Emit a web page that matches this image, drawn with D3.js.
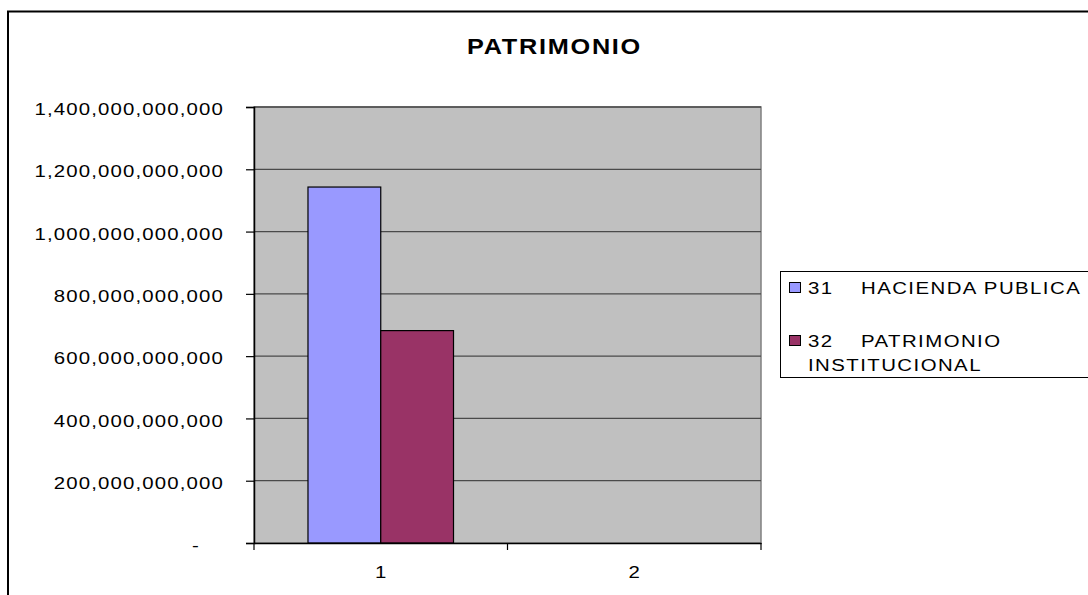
<!DOCTYPE html>
<html>
<head>
<meta charset="utf-8">
<script src="https://cdn.jsdelivr.net/npm/d3@7"></script>
<style>
html,body{margin:0;padding:0;background:#fff;}
svg{display:block;font-family:"Liberation Sans",Arial,sans-serif;}
</style>
</head>
<body>
<svg id="chart" width="1088" height="595"></svg>
<script>
const title = "PATRIMONIO";
const categories = ["1", "2"];
const seriesNames = ["31", "32"];
const seriesLabels = [["HACIENDA PUBLICA"], ["PATRIMONIO", "INSTITUCIONAL"]];
const seriesColors = ["#9999FF", "#993366"];
const hacienda = [1143000000000, null];
const patrimonioInst = [682000000000, null];
const yTicks = [0, 200000000000, 400000000000, 600000000000, 800000000000, 1000000000000, 1200000000000, 1400000000000];
const yTickLabels = ["-", "200,000,000,000", "400,000,000,000", "600,000,000,000", "800,000,000,000", "1,000,000,000,000", "1,200,000,000,000", "1,400,000,000,000"];

const SX = 1.2; // horizontal stretch of the original's text rendering
const svg = d3.select("#chart");
const plot = {left: 254, right: 761, top: 107, bottom: 543};
const stretch = (x, y, s) => `translate(${x},${y}) scale(${s},1)`;

// outer chart border (extends beyond picture on right/bottom)
svg.append("rect").attr("x", 8).attr("y", 11.5).attr("width", 1200).attr("height", 700)
  .attr("fill", "#fff").attr("stroke", "#000").attr("stroke-width", 2);

// title
svg.append("text").attr("transform", stretch(554.5, 54, 1.15)).attr("text-anchor", "middle")
  .attr("font-size", 22).attr("font-weight", "bold").attr("letter-spacing", 1.5)
  .text(title);

const y = d3.scaleLinear().domain([0, 1400000000000]).range([plot.bottom, plot.top]);
const x0 = d3.scaleBand().domain(categories).range([plot.left, plot.right]).padding(0);
const x1 = d3.scaleBand().domain(seriesNames).range([0, x0.bandwidth()]).paddingInner(0).paddingOuter(0.742);

// plot background
svg.append("rect").attr("x", plot.left).attr("y", plot.top)
  .attr("width", plot.right - plot.left).attr("height", plot.bottom - plot.top)
  .attr("fill", "#C0C0C0").attr("stroke", "#808080").attr("stroke-width", 1.5);

// gridlines
svg.append("g").selectAll("line").data(yTicks.filter(d => d > 0)).join("line")
  .attr("x1", plot.left).attr("x2", plot.right)
  .attr("y1", d => y(d)).attr("y2", d => y(d))
  .attr("stroke", "#4a4a4a").attr("stroke-width", 1.3);

// bars
const seriesData = [hacienda, patrimonioInst];
const bars = [];
categories.forEach((c, ci) => {
  seriesNames.forEach((s, si) => {
    const v = seriesData[si][ci];
    if (v != null) bars.push({c, s, v, color: seriesColors[si]});
  });
});
svg.append("g").selectAll("rect").data(bars).join("rect")
  .attr("x", d => x0(d.c) + x1(d.s))
  .attr("y", d => y(d.v))
  .attr("width", x1.bandwidth())
  .attr("height", d => y(0) - y(d.v))
  .attr("fill", d => d.color).attr("stroke", "#000").attr("stroke-width", 1.2);

// y axis
const yAxis = d3.axisLeft(y).tickValues(yTicks).tickSize(8).tickFormat((d, i) => yTickLabels[i]);
const ya = svg.append("g").attr("transform", `translate(${plot.left},0)`).call(yAxis);
ya.select(".domain").attr("stroke", "#000").attr("stroke-width", 1.5);
ya.selectAll(".tick line").attr("stroke", "#000").attr("stroke-width", 1.2);
ya.selectAll(".tick text").attr("x", 0).attr("dy", "0.45em")
  .attr("transform", d => stretch(d === 0 ? -54 : -30, 0, SX))
  .attr("font-size", 17).attr("fill", "#000").attr("letter-spacing", 0.95)
  .attr("font-family", "Liberation Sans, Arial, sans-serif");

// x axis
const xAxis = d3.axisBottom(x0).tickSize(0).tickFormat(d => d);
const xa = svg.append("g").attr("transform", `translate(0,${plot.bottom})`).call(xAxis);
xa.select(".domain").attr("stroke", "#000").attr("stroke-width", 1.5);
xa.selectAll(".tick text").attr("y", 0).attr("dy", "0.32em")
  .attr("transform", stretch(0, 30, SX))
  .attr("font-size", 17).attr("fill", "#000")
  .attr("font-family", "Liberation Sans, Arial, sans-serif");
// category boundary tick marks
const bounds = categories.map(c => x0(c)).concat([x0(categories[categories.length - 1]) + x0.bandwidth()]);
xa.append("g").selectAll("line").data(bounds).join("line")
  .attr("x1", d => d).attr("x2", d => d).attr("y1", 0).attr("y2", 7)
  .attr("stroke", "#000").attr("stroke-width", 1.2);

// legend
const lg = svg.append("g");
lg.append("rect").attr("x", 780.5).attr("y", 271.5).attr("width", 400).attr("height", 106)
  .attr("fill", "#fff").attr("stroke", "#000").attr("stroke-width", 1);
const legendRows = [{baseline: 294}, {baseline: 347}];
seriesNames.forEach((s, i) => {
  const b = legendRows[i].baseline;
  lg.append("rect").attr("x", 789.5).attr("y", b - 11.5).attr("width", 11).attr("height", 10)
    .attr("fill", seriesColors[i]).attr("stroke", "#000").attr("stroke-width", 1);
  lg.append("text").attr("transform", stretch(808, b, SX)).attr("font-size", 17)
    .attr("letter-spacing", 1.2).text(s);
  seriesLabels[i].forEach((t, j) => {
    lg.append("text").attr("transform", stretch(j === 0 ? 861 : 808, b + j * 23.5, SX))
      .attr("font-size", 17).attr("letter-spacing", 1.2).text(t);
  });
});
</script>
</body>
</html>
